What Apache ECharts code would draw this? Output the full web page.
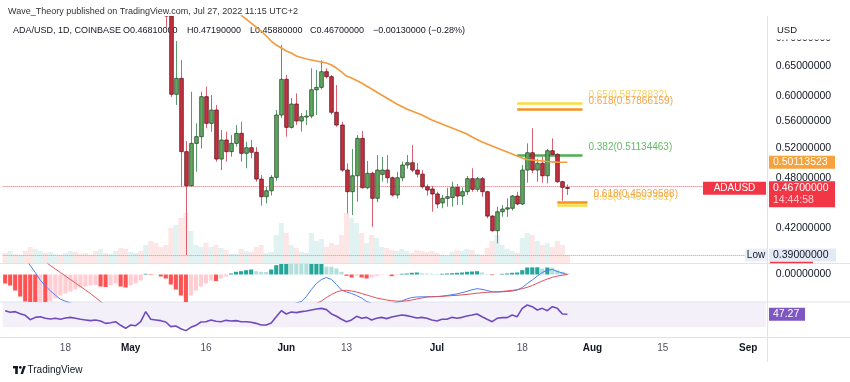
<!DOCTYPE html>
<html><head><meta charset="utf-8">
<script src="https://cdn.jsdelivr.net/npm/echarts@6/dist/echarts.min.js"></script>
<style>html,body{margin:0;padding:0;background:#fff}#c{width:850px;height:382px}</style>
</head><body><div id="c"></div>
<script>
// ---------------- DATA ----------------
const firstDay = '2022-04-06';
const dayCount = 152;               // categories on the time axis (Apr 6 .. Sep 4)
const categories = [];
(function(){ const d0 = Date.parse(firstDay + 'T00:00:00Z');
  for (let i = 0; i < dayCount; i++) categories.push(new Date(d0 + i*86400000).toISOString().slice(0,10)); })();

const xTickDates = ['2022-04-18','2022-05-01','2022-05-16','2022-06-01','2022-06-13','2022-07-01','2022-07-18','2022-08-01','2022-08-15','2022-09-01'];
const xTickTexts = ['18','May','16','Jun','13','Jul','18','Aug','15','Sep'];
const xTickIsMonth = [false,true,false,true,false,true,false,true,false,true];

const priceTicks = [0.42, 0.48, 0.52, 0.56, 0.60, 0.65, 0.70];

// daily candles Apr 6 .. Jul 27 2022
const open = [1.13,1.05,1.07,1.02,1.04,0.99,0.93,0.95,0.98,0.94,0.95,0.95,0.93,0.95,0.97,0.96,0.93,0.91,0.90,0.88,0.89,0.83,0.87,0.88,0.83,0.76,0.80,0.81,0.79,0.87,0.80,0.79,0.77,
0.744,0.6022,0.6287,0.5157,0.4703,0.5274,0.5370,0.5983,0.5567,0.5771,
0.5055,0.5322,0.5157,0.5274,0.5419,0.5134,0.5212,0.5148,0.4789,0.4566,
0.4640,0.4811,0.5694,0.6271,0.5507,0.5866,0.5602,0.5668,0.5678,0.6096,
0.6136,0.6401,0.6315,0.5736,0.5542,0.4907,0.4628,0.4832,0.5346,0.4678,
0.4864,0.4546,0.4850,0.4907,0.4806,0.4587,0.4806,0.4974,0.5005,0.4907,
0.4853,0.4691,0.4662,0.4600,0.4490,0.4546,0.4555,0.4683,0.4574,0.4628,
0.4794,0.4658,0.4794,0.4628,0.4333,0.4165,0.4384,0.4416,0.4425,0.4574,
0.4477,0.4907,0.5142,0.4907,0.4997,0.4832,0.5170,0.5120,0.4755,0.4681];
const high = [1.14,1.09,1.09,1.05,1.05,1.00,0.97,0.99,0.99,0.96,0.96,0.96,0.96,0.98,1.00,0.99,0.94,0.92,0.91,0.90,0.90,0.88,0.90,0.88,0.84,0.81,0.83,0.82,0.88,0.88,0.81,0.79,0.77,
0.758,0.6954,0.6606,0.5307,0.6064,0.5567,0.6064,0.6146,0.6010,0.5850,
0.5467,0.5443,0.5394,0.5542,0.5591,0.5297,0.5322,0.5220,0.4841,0.4691,
0.4841,0.5771,0.6880,0.6344,0.5961,0.6038,0.5725,0.5771,0.6460,0.6430,
0.6600,0.6460,0.6344,0.6175,0.5591,0.4997,0.5194,0.5394,0.5453,0.5028,
0.4885,0.5110,0.5087,0.5110,0.4822,0.4885,0.5020,0.5110,0.5250,0.5000,
0.4907,0.4720,0.4700,0.4628,0.4587,0.4678,0.4755,0.4725,0.4683,0.4828,
0.4930,0.4815,0.4815,0.4640,0.4345,0.4444,0.4464,0.4545,0.4587,0.4628,
0.4974,0.5274,0.5493,0.5057,0.5087,0.5194,0.5346,0.5134,0.4767,0.4719];
const low = [1.04,1.03,1.01,1.01,0.98,0.91,0.92,0.93,0.93,0.93,0.94,0.92,0.89,0.94,0.95,0.92,0.90,0.89,0.87,0.83,0.82,0.82,0.85,0.82,0.76,0.75,0.78,0.78,0.79,0.78,0.77,0.75,0.72,
0.598,0.585,0.4691,0.390,0.4691,0.4885,0.520,0.5493,0.5443,0.5019,
0.4907,0.5019,0.5087,0.5227,0.5019,0.4930,0.5065,0.4755,0.4456,0.4484,
0.4580,0.4767,0.5650,0.5370,0.5490,0.5542,0.5443,0.5542,0.5644,0.5694,
0.6100,0.6287,0.5704,0.5516,0.4885,0.4365,0.4345,0.4504,0.4668,0.4660,
0.4210,0.4500,0.4755,0.4734,0.4566,0.4545,0.4760,0.4925,0.4880,0.4810,
0.4668,0.4580,0.4384,0.4425,0.4425,0.4444,0.4444,0.4464,0.4464,0.4587,
0.4628,0.4628,0.4566,0.4307,0.4154,0.4025,0.4325,0.4325,0.4400,0.4460,
0.4464,0.4742,0.4864,0.4755,0.4742,0.4734,0.5110,0.4740,0.4517,0.4588];
const close = [1.05,1.07,1.02,1.04,0.99,0.93,0.95,0.98,0.94,0.95,0.95,0.93,0.95,0.97,0.96,0.93,0.91,0.90,0.88,0.89,0.83,0.87,0.88,0.83,0.76,0.80,0.81,0.79,0.87,0.80,0.79,0.77,0.744,
0.6022,0.6287,0.5157,0.4703,0.5274,0.5370,0.5983,0.5567,0.5771,0.5055,
0.5322,0.5157,0.5274,0.5419,0.5134,0.5212,0.5148,0.4789,0.4566,0.4640,
0.4811,0.5694,0.6271,0.5507,0.5866,0.5602,0.5668,0.5678,0.6096,0.6136,
0.6401,0.6315,0.5736,0.5542,0.4907,0.4628,0.4832,0.5346,0.4678,0.4864,
0.4546,0.4907,0.4907,0.4806,0.4587,0.4806,0.4974,0.5005,0.4907,0.4853,
0.4691,0.4649,0.4600,0.4477,0.4546,0.4566,0.4683,0.4574,0.4628,0.4794,
0.4658,0.4794,0.4628,0.4333,0.4165,0.4384,0.4416,0.4431,0.4574,0.4477,
0.4907,0.5142,0.4907,0.4997,0.4832,0.5170,0.5120,0.4755,0.4683,0.4670];

// moving average (orange)
const maValues = [null,null,null,null,null,null,null,null,null,null,null,null,null,null,null,null,null,null,null,null,null,null,null,null,null,null,null,null,null,null,null,null,null,
null,null,null,null,null,null,null,null,null,null,
0.783,0.774,0.7645,0.7552,0.7461,0.738,0.730,0.7223,0.7145,0.7049,
0.6954,0.688,0.6824,0.6769,0.6732,0.6678,0.6651,0.6624,0.6606,0.6588,
0.6571,0.6553,0.6518,0.6465,0.6396,0.6327,0.6293,0.625,0.6208,0.6158,
0.6108,0.6059,0.601,0.5962,0.5913,0.5866,0.5826,0.5787,0.5756,0.5725,
0.5694,0.5656,0.5618,0.5588,0.5558,0.5528,0.5498,0.5468,0.5439,0.541,
0.5366,0.533,0.5294,0.5266,0.5237,0.5209,0.518,0.5152,0.5124,0.5097,
0.5069,0.5049,0.5042,0.5035,0.5028,0.5021,0.5016,0.5013,0.5012,0.50113523];

// volume (relative units)
const volume = [10,12,9,8,12,16,14,12,10,11,9,8,10,12,11,9,10,8,12,14,10,9,12,15,14,11,10,12,18,22,20,16,18,
35,38,45,50,32,18,16,20,16,18, 15,13,9,9,14,12,11,16,18,10, 11,28,40,30,18,15,11,10,30,22,
24,16,20,18,28,50,45,40,30,20, 28,25,16,15,13,12,14,12,10,13, 12,11,12,10,8,7,11,13,12,14,
13,9,8,15,22,28,18,14,12,10, 25,30,28,22,18,20,16,22,18,8];

// MACD
const macdHist = [-0.009,-0.011,-0.016,-0.022,-0.027,-0.029,-0.030,-0.028,-0.031,-0.027,-0.024,-0.021,-0.019,-0.017,-0.015,-0.013,-0.012,-0.011,-0.0105,-0.012,-0.0125,-0.011,-0.009,-0.012,-0.013,-0.011,-0.009,-0.006,0.0007,-0.0005,-0.0003,-0.002,-0.004,
-0.010,-0.015,-0.021,-0.028,-0.021,-0.016,-0.012,-0.009,-0.006,-0.0065,
-0.004,-0.002,0.001,0.0027,0.0033,0.0043,0.005,0.0033,0.0027,0.0026,
0.005,0.0093,0.012,0.014,0.0135,0.013,0.0125,0.012,0.0125,0.013,
0.0135,0.0078,0.0077,0.006,0.0027,-0.0013,-0.003,-0.0013,-0.003,-0.004,
-0.003,-0.0017,-0.0007,-0.0001,-0.0017,-0.0007,0.0007,0.001,0.0017,0.002,
0.0013,0.001,0.0007,0.0005,0.0007,0.001,0.0013,0.0017,0.002,0.0027,
0.003,0.0033,0.002,0.0005,-0.0007,-0.0002,0.0007,0.001,0.0017,0.002,
0.0043,0.007,0.0071,0.0072,0.006,0.007,0.0068,0.0043,0.0027,0.001];
const macdLine = [0.040,0.036,0.030,0.024,0.016,0.009,0.002,-0.0057,-0.0113,-0.0163,-0.0207,-0.0247,-0.0267,-0.0285,-0.030,-0.032,-0.034,-0.036,-0.038,-0.040,-0.042,-0.043,-0.044,-0.046,-0.048,-0.049,-0.050,-0.050,-0.048,-0.048,-0.048,-0.050,-0.053,
-0.058,-0.064,-0.070,-0.078,-0.080,-0.080,-0.078,-0.076,-0.074,-0.073,
-0.071,-0.068,-0.065,-0.062,-0.059,-0.056,-0.053,-0.052,-0.052,-0.051,
-0.048,-0.041,-0.035,-0.032,-0.030,-0.0285,-0.027,-0.022,-0.015,-0.009,
-0.005,-0.003,-0.005,-0.010,-0.0155,-0.0175,-0.019,-0.021,-0.0235,-0.027,
-0.029,-0.030,-0.030,-0.0295,-0.029,-0.028,-0.0265,-0.0245,-0.023,-0.0225,
-0.0223,-0.0223,-0.0222,-0.022,-0.0217,-0.021,-0.0202,-0.0194,-0.0182,-0.0168,
-0.0153,-0.0142,-0.0148,-0.016,-0.0173,-0.0175,-0.0173,-0.017,-0.0165,-0.0155,
-0.013,-0.009,-0.0055,-0.0015,0.002,0.0043,0.005,0.003,0.0015,0.0];
const signalLine = [0.045,0.044,0.042,0.039,0.035,0.030,0.024,0.018,0.013,0.009,0.0055,0.002,-0.0015,-0.005,-0.0085,-0.012,-0.0155,-0.019,-0.023,-0.027,-0.031,-0.034,-0.036,-0.038,-0.040,-0.041,-0.042,-0.043,-0.044,-0.045,-0.046,-0.047,-0.049,
-0.051,-0.054,-0.058,-0.062,-0.065,-0.067,-0.068,-0.069,-0.069,-0.069,
-0.068,-0.067,-0.066,-0.064,-0.062,-0.061,-0.059,-0.058,-0.057,-0.056,
-0.055,-0.052,-0.049,-0.046,-0.043,-0.040,-0.037,-0.034,-0.031,-0.029,
-0.0265,-0.023,-0.020,-0.0175,-0.016,-0.0158,-0.0165,-0.0175,-0.019,-0.0205,
-0.022,-0.0235,-0.0245,-0.0255,-0.0262,-0.0266,-0.0268,-0.0263,-0.0255,-0.0245,
-0.0235,-0.0225,-0.0223,-0.0221,-0.0218,-0.0215,-0.0211,-0.0208,-0.0204,-0.0199,
-0.0193,-0.0187,-0.0182,-0.0178,-0.0175,-0.0173,-0.0169,-0.0164,-0.0159,-0.0152,
-0.0142,-0.0128,-0.011,-0.0088,-0.0065,-0.0045,-0.0028,-0.0016,-0.0007,0.0];

// RSI
const rsi = [52.1,49.9,50.8,48.1,45.9,40.1,43.2,44.1,41.9,41.0,41.9,40.6,42.3,43.2,41.9,40.6,39.7,38.8,39.7,38.3,35.2,36.1,37.4,32.6,28.6,33.0,32.1,37.4,50.8,40.6,39.7,38.8,37.0,
30.8,31.7,28.1,25.5,29.9,32.6,37.0,37.4,39.7,37.9, 37.4,39.2,38.3,38.8,37.4,37.4,36.6,35.2,33.0,33.0,
35.7,44.1,52.1,47.7,50.3,49.5,50.8,51.7,53.0,54.3, 55.2,53.5,47.7,44.6,40.6,37.4,39.7,44.6,41.9,43.2,
39.7,41.9,43.2,41.5,43.7,45.0,46.3,45.5,44.1,42.3, 43.2,41.9,39.7,38.3,40.6,40.6,43.2,41.9,43.2,45.0,
46.3,47.7,44.1,40.6,37.4,41.9,42.8,42.8,46.3,44.1, 55.2,59.7,57.4,53.0,55.2,52.1,57.4,55.2,47.7,47.27];

// Fibonacci levels
const fibUpper = [
  {ratio:'0.65',  value:0.58778832, color:'#f9dc3c', text:'#f3d463'},
  {ratio:'0.618', value:0.57866159, color:'#f5931c', text:'#f5a449'},
  {ratio:'0.382', value:0.51134463, color:'#4caf50', text:'#66bb6a'}];
const fibUpperRange = ['2022-07-17','2022-07-30'];
const fibLower = [
  {ratio:'0.65',  value:0.44637381, color:'#f9dc3c', text:'#f3d463'},
  {ratio:'0.618', value:0.45039588, color:'#f5931c', text:'#f5a449'}];
const fibLowerRange = ['2022-07-25','2022-07-31'];

const lastPrice = 0.467, maLast = 0.50113523, visibleLow = 0.39, rsiLast = 47.27;
const header1 = 'Wave_Theory published on TradingView.com, Jul 27, 2022 11:15 UTC+2';
const header2 = [['ADA/USD, 1D, COINBASE',13],['O0.46810000',123],['H0.47190000',187],['L0.45880000',250],['C0.46700000',310],['\u22120.00130000 (\u22120.28%)',373]];

// ---------------- CHART ----------------
const FONT = '"Liberation Sans", Arial, sans-serif';
const chart = echarts.init(document.getElementById('c'), null, {width:850, height:382});
const n = close.length;
const candleData = [];
for (let i = 0; i < n; i++) candleData.push([i, open[i], close[i], low[i], high[i]]);
const volData = volume.map((v,i)=>({value:v, itemStyle:{color: close[i]>=open[i] ? 'rgba(38,166,154,0.14)' : 'rgba(239,83,80,0.14)'}}));
const histData = macdHist.map((v,i)=>{
  const p = i>0 ? macdHist[i-1] : v;
  let c;
  if (v >= 0) c = v >= p ? '#26a69a' : '#b2dfdb'; else c = v <= p ? '#ff5252' : '#ffcdd2';
  return {value:v, itemStyle:{color:c}};
});

const GL = 2.65, GR = 84.3;
const grids = [
  {left:GL, right:GR, top:16, height:247},
  {left:GL, right:GR, top:264, height:38},
  {left:GL, right:GR, top:302, height:35}];
const tickMap = {}; xTickDates.forEach((d,i)=>tickMap[d]=i);

function xAxisCfg(gi, showLabel){
  return {type:'category', gridIndex:gi, data:categories, boundaryGap:true,
    axisLine:{show:false}, axisTick:{show:false}, splitLine:{show:false},
    axisLabel:{show:showLabel, interval:(idx,val)=>tickMap[val]!==undefined, margin:6,
      fontFamily:FONT, fontSize:10, color:'#50535e',
      formatter:(val)=>{const k=tickMap[val]; if(k===undefined) return ''; return xTickIsMonth[k] ? '{b|'+xTickTexts[k]+'}' : xTickTexts[k];},
      rich:{b:{fontWeight:'bold', color:'#131722', fontFamily:FONT, fontSize:10}}}};
}

const fibLines = [];
fibUpper.forEach(f=>fibLines.push([{coord:[fibUpperRange[0], f.value], lineStyle:{color:f.color, width:2.5, type:'solid'}},{coord:[fibUpperRange[1], f.value]}]));
fibLower.forEach(f=>fibLines.push([{coord:[fibLowerRange[0], f.value], lineStyle:{color:f.color, width:2.5, type:'solid'}},{coord:[fibLowerRange[1], f.value]}]));

const option = {
  animation:false,
  grid:grids,
  xAxis:[xAxisCfg(0,false), xAxisCfg(1,false), xAxisCfg(2,true)],
  yAxis:[
    {type:'log', gridIndex:0, position:'right', min:0.3817, max:0.7441, logBase:10,
      axisLine:{show:false}, axisTick:{show:false}, splitLine:{show:false},
      axisLabel:{show:true, customValues:priceTicks, margin:10, fontFamily:FONT, fontSize:10.5, color:'#131722',
        formatter:(v)=>Number(v).toFixed(8)}},
    {type:'value', gridIndex:0, min:0, max:247, show:false},
    {type:'value', gridIndex:1, position:'right', min:-0.0275, max:0.0105,
      axisLine:{show:false}, axisTick:{show:false}, splitLine:{show:false},
      axisLabel:{show:true, customValues:[0], margin:10, fontFamily:FONT, fontSize:10.5, color:'#131722', formatter:()=> '0.00000000'}},
    {type:'value', gridIndex:2, position:'right', min:17.0, max:63.67,
      axisLine:{show:false}, axisTick:{show:false}, splitLine:{show:false}, axisLabel:{show:false}}
  ],
  series:[
    {type:'bar', xAxisIndex:0, yAxisIndex:1, data:volData, barCategoryGap:'0%', barGap:'0%', z:1, silent:true},
    {type:'custom', xAxisIndex:0, yAxisIndex:0, clip:true, z:5, silent:true,
      encode:{x:0, y:[1,2,3,4]}, data:candleData,
      renderItem:(params, api)=>{
        const i = api.value(0), o=api.value(1), c=api.value(2), l=api.value(3), h=api.value(4);
        const pO = api.coord([i,o]), pC = api.coord([i,c]), pL = api.coord([i,l]), pH = api.coord([i,h]);
        const step = api.coord([i+1,o])[0] - pO[0];
        const w = step*0.72;
        const up = c >= o;
        const top = Math.min(pO[1], pC[1]), bot = Math.max(pO[1], pC[1]);
        const x = Math.round(pO[0]) + 0.5;
        return {type:'group', children:[
          {type:'line', shape:{x1:x, y1:pH[1], x2:x, y2:pL[1]}, style:{stroke: up ? '#5b9a6c' : '#d9606e', lineWidth:1}},
          {type:'rect', shape:{x:x - w/2, y:top, width:w, height:Math.max(bot-top,1)},
            style:{fill: up ? '#5fa95f' : '#c8303f', stroke: up ? '#2a4a2c' : '#5c1a22', lineWidth:0.8}}
        ]};
      }},
    {type:'line', xAxisIndex:0, yAxisIndex:0, data:maValues, showSymbol:false, z:6, silent:true,
      lineStyle:{color:'#f39b3a', width:1.6},
      markLine:{silent:true, symbol:['none','none'], label:{show:false}, animation:false,
        data:[
          {yAxis:lastPrice, lineStyle:{type:'dotted', color:'#f23645', width:1, opacity:0.8}},
          {yAxis:visibleLow, lineStyle:{type:'dotted', color:'#a3a6af', width:1}},
          ...fibLines]}},
    {type:'bar', xAxisIndex:1, yAxisIndex:2, data:histData, barCategoryGap:'18%', silent:true, z:2},
    {type:'line', xAxisIndex:1, yAxisIndex:2, data:macdLine, showSymbol:false, lineStyle:{color:'#4f7cf0', width:1}, silent:true, z:3},
    {type:'line', xAxisIndex:1, yAxisIndex:2, data:signalLine, showSymbol:false, lineStyle:{color:'#e0505c', width:1}, silent:true, z:3},
    {type:'line', xAxisIndex:2, yAxisIndex:3, data:rsi, showSymbol:false, lineStyle:{color:'#6f4bbf', width:1.6}, silent:true, z:3,
      markArea:{silent:true, itemStyle:{color:'rgba(126,87,194,0.09)'}, data:[[{yAxis:30},{yAxis:70}]]}}
  ]
};
chart.setOption(option);

// ---------- overlay texts positioned through the chart's own scales ----------
const yP = v => chart.convertToPixel({yAxisIndex:0}, v);
const xP = d => chart.convertToPixel({xAxisIndex:0}, d);
const yR = v => chart.convertToPixel({yAxisIndex:3}, v);
const g = [];
const txt = (text, x, y, fill, font, align, z) => ({type:'text', x:x, y:y, z:z||0, silent:true,
  style:{text:text, fill:fill, font:font, align:align||'left', verticalAlign:'middle'}});
const box = (x, y, w, h, fill, z) => ({type:'rect', z:z||50, silent:true, shape:{x:x, y:y, width:w, height:h}, style:{fill:fill}});
const line = (x1,y1,x2,y2,stroke,z) => ({type:'line', z:z||0, silent:true, shape:{x1,y1,x2,y2}, style:{stroke:stroke, lineWidth:1}});

// pane separators
g.push(line(0,263.5,850,263.5,'#e0e3eb',1));
g.push(line(0,302,850,302,'#e0e3eb',1));
g.push(line(0,337.5,850,337.5,'#e0e3eb',1));
g.push(line(767.5,16,767.5,362,'#e0e3eb',1));

// header
g.push(txt(header1, 8, 12, '#333', '9px ' + FONT, 'left', 0));
header2.forEach(h => g.push(txt(h[0], h[1], 31, '#131722', '9px ' + FONT, 'left', 0)));

// USD corner (hides top half of 0.70 label)
g.push(box(768.5, 16, 81.5, 23.5, '#ffffff', 60));
g.push(txt('USD', 777, 30, '#131722', '9.5px ' + FONT, 'left', 61));

// fib labels
fibUpper.forEach(f => g.push(txt(f.ratio + '(' + f.value.toFixed(8) + ')', xP(fibUpperRange[1]) + 6, yP(f.value) - 8, f.text, '10px ' + FONT, 'left', 20)));
fibLower.forEach(f => g.push(txt(f.ratio + '(' + f.value.toFixed(8) + ')', xP(fibLowerRange[1]) + 6, yP(f.value) - 8, f.text, '10px ' + FONT, 'left', 20)));

// MA value box
const yMA = yP(maLast);
g.push(box(769, yMA - 6.5, 66, 13, '#f7a23c', 70));
g.push(txt(maLast.toFixed(8), 773, yMA, '#ffffff', '10.5px ' + FONT, 'left', 71));

// last price boxes
const yLP = yP(lastPrice);
g.push(box(703, yLP - 6.5, 63, 13, '#f23645', 70));
g.push(txt('ADAUSD', 734.5, yLP, '#ffffff', '10px ' + FONT, 'center', 71));
g.push(box(769, yLP - 7, 66, 26, '#f23645', 70));
g.push(txt(lastPrice.toFixed(8), 773, yLP, '#ffffff', '10.5px ' + FONT, 'left', 71));
g.push(txt('14:44:58', 773, yLP + 12, '#ffd0d4', '10.5px ' + FONT, 'left', 71));

// visible low
const yLow = yP(visibleLow);
g.push(box(745, yLow - 6.5, 22, 13, '#e9edf5', 70));
g.push(txt('Low', 756, yLow, '#131722', '10px ' + FONT, 'center', 71));
g.push(box(769, yLow - 6.5, 67, 13, '#e3eaf6', 70));
g.push(txt(visibleLow.toFixed(8), 773, yLow, '#131722', '10.5px ' + FONT, 'left', 71));
g.push(box(770, yLow + 6.8, 43, 1.5, '#f23645', 70));

// RSI value
const yRsi = yR(rsiLast);
g.push(box(769, yRsi - 6.5, 36, 13, '#7e57c2', 70));
g.push(txt(rsiLast.toFixed(2), 773, yRsi, '#ffffff', '10.5px ' + FONT, 'left', 71));

// footer logo
g.push(box(13, 366, 5, 2.4, '#131722', 5));
g.push(box(15.2, 366, 2.6, 8, '#131722', 5));
g.push({type:'circle', z:5, silent:true, shape:{cx:20.3, cy:367.4, r:1.4}, style:{fill:'#131722'}});
g.push({type:'polygon', z:5, silent:true, shape:{points:[[20.5,374],[23.3,366],[25.8,366],[23,374]]}, style:{fill:'#131722'}});
g.push(txt('TradingView', 27.5, 370.5, '#131722', '500 10px ' + FONT, 'left', 5));

chart.setOption({graphic:{elements:g}});
</script>
</body></html>
